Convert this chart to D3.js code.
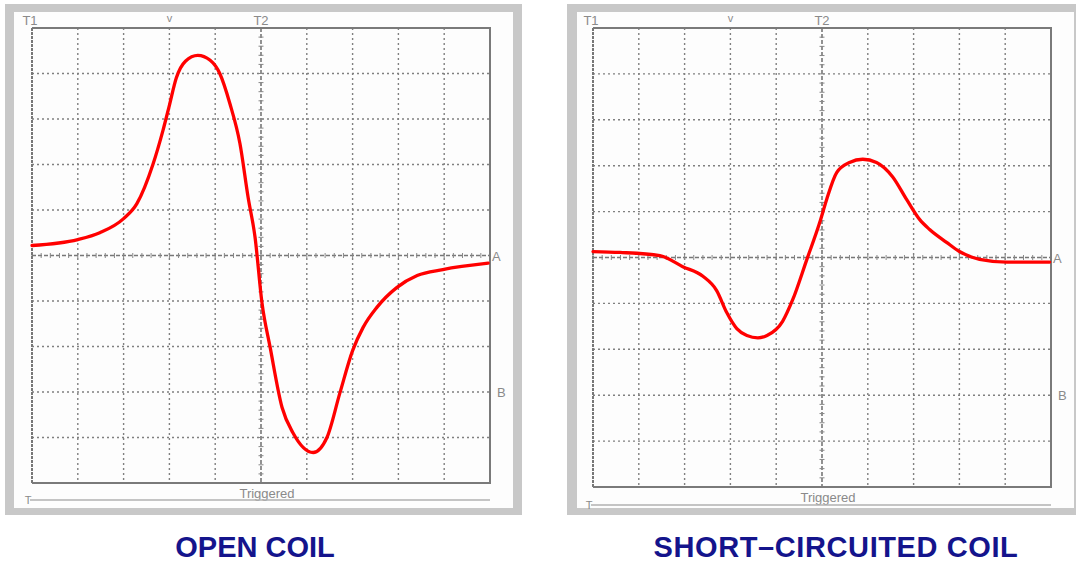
<!DOCTYPE html>
<html>
<head>
<meta charset="utf-8">
<script src="https://cdn.jsdelivr.net/npm/d3@7"></script>
<style>
  body { margin: 0; background: #fff; }
  svg { display: block; }
  text { font-family: "Liberation Sans", Arial, sans-serif; }
</style>
</head>
<body>
<svg id="chart" width="1076" height="564"></svg>
<script>
// values in screen divisions: x 0..10 left to right, y -5..5 (0 = centre line)
var openX  = [0, 1, 1.48, 2, 2.29, 2.64, 2.86, 3.0, 3.15, 3.35, 3.62, 3.89, 4.1, 4.32, 4.54, 4.72, 4.87, 5.02, 5.2, 5.46, 5.7, 6.14, 6.44, 6.72, 7.0, 7.23, 7.53, 7.97, 8.41, 8.97, 9.96];
var openY  = [0.22, 0.35, 0.5, 0.81, 1.14, 2.0, 2.75, 3.3, 3.9, 4.27, 4.4, 4.29, 4.0, 3.34, 2.46, 1.27, 0.4, -1.03, -2.02, -3.34, -3.9, -4.33, -4.0, -3.03, -2.09, -1.58, -1.14, -0.7, -0.44, -0.31, -0.17];
var shortX = [0, 0.59, 1.46, 1.96, 2.4, 2.7, 2.92, 3.14, 3.36, 3.6, 3.8, 4.14, 4.36, 4.67, 4.95, 5.1, 5.32, 5.6, 5.89, 6.19, 6.54, 6.85, 7.13, 7.35, 7.72, 8.0, 8.44, 9.03, 9.97];
var shortY = [0.13, 0.11, 0.04, -0.2, -0.41, -0.72, -1.2, -1.55, -1.7, -1.75, -1.7, -1.39, -0.92, -0.04, 0.76, 1.26, 1.85, 2.07, 2.14, 2.07, 1.76, 1.26, 0.83, 0.61, 0.33, 0.13, -0.04, -0.1, -0.1];
var titles = ["OPEN COIL", "SHORT\u2013CIRCUITED COIL"];
var divs = d3.range(0, 11);

var svg = d3.select("#chart");

var panels = [
  {frame: [5, 4, 517, 511], inner: [14, 12, 499, 496], plot: {left: 32, right: 490, top: 28, bottom: 483},
   xs: openX, ys: openY, title: titles[0], titleX: 255, spacing: 0, baseY: 500},
  {frame: [567, 4, 530, 511], inner: [577, 12, 497, 496], plot: {left: 593, right: 1051, top: 28, bottom: 487},
   xs: shortX, ys: shortY, title: titles[1], titleX: 836, spacing: 0.6, baseY: 505}
];

panels.forEach(function(p) {
  var g = svg.append("g");
  // window frame
  g.append("rect").attr("x", p.frame[0]).attr("y", p.frame[1])
    .attr("width", p.frame[2]).attr("height", p.frame[3]).attr("fill", "#c8c8c8");
  g.append("rect").attr("x", p.inner[0]).attr("y", p.inner[1])
    .attr("width", p.inner[2]).attr("height", p.inner[3]).attr("fill", "#fdfdfd");

  var x = d3.scaleLinear().domain([0, 10]).range([p.plot.left, p.plot.right]);
  var y = d3.scaleLinear().domain([-5, 5]).range([p.plot.bottom, p.plot.top]);

  // grid
  g.selectAll(".vgrid").data(divs.filter(function(d) { return d > 0 && d < 10 && d != 5; }))
    .enter().append("line")
      .attr("x1", function(d) { return x(d); }).attr("x2", function(d) { return x(d); })
      .attr("y1", y(5)).attr("y2", y(-5))
      .attr("stroke", "#808080").attr("stroke-width", 1.4).attr("stroke-dasharray", "2,3");
  g.selectAll(".hgrid").data(divs.map(function(d) { return d - 5; }).filter(function(d) { return d > -5 && d < 5 && d != 0; }))
    .enter().append("line")
      .attr("y1", function(d) { return y(d); }).attr("y2", function(d) { return y(d); })
      .attr("x1", x(0)).attr("x2", x(10))
      .attr("stroke", "#808080").attr("stroke-width", 1.4).attr("stroke-dasharray", "2,3");

  // centre lines with minor ticks
  g.append("line").attr("x1", x(0)).attr("x2", x(10)).attr("y1", y(0)).attr("y2", y(0))
    .attr("stroke", "#777").attr("stroke-width", 1.6).attr("stroke-dasharray", "4,2");
  g.append("line").attr("x1", x(5)).attr("x2", x(5)).attr("y1", y(5)).attr("y2", y(-5))
    .attr("stroke", "#777").attr("stroke-width", 1.6).attr("stroke-dasharray", "4,2");
  var minor = d3.range(0, 50.5, 1).map(function(i) { return i / 5; });
  g.selectAll(".hmin").data(minor).enter().append("line")
    .attr("x1", function(d) { return x(d); }).attr("x2", function(d) { return x(d); })
    .attr("y1", y(0) - 2.5).attr("y2", y(0) + 2.5)
    .attr("stroke", "#888").attr("stroke-width", 1);
  g.selectAll(".vmin").data(minor.map(function(d) { return d - 5; })).enter().append("line")
    .attr("y1", function(d) { return y(d); }).attr("y2", function(d) { return y(d); })
    .attr("x1", x(5) - 2.5).attr("x2", x(5) + 2.5)
    .attr("stroke", "#888").attr("stroke-width", 1);

  // plot border
  g.append("line").attr("x1", x(0)).attr("x2", x(0)).attr("y1", y(5)).attr("y2", y(-5))
    .attr("stroke", "#777").attr("stroke-width", 2).attr("stroke-dasharray", "3,1");
  g.append("path")
    .attr("d", "M" + x(0) + "," + y(5) + "H" + x(10) + "V" + y(-5) + "H" + x(0))
    .attr("fill", "none").attr("stroke", "#7a7a7a").attr("stroke-width", 2);

  // trace
  var pts = p.xs.map(function(d, i) { return [d, p.ys[i]]; });
  var line = d3.line().x(function(d) { return x(d[0]); }).y(function(d) { return y(d[1]); })
    .curve(d3.curveMonotoneX);
  g.append("path").datum(pts).attr("d", line)
    .attr("fill", "none").attr("stroke", "#ff0000").attr("stroke-width", 3.3)
    .attr("stroke-linejoin", "round").attr("stroke-linecap", "round");

  // screen labels
  var lab = function(tx, ty, s, size, anchor) {
    g.append("text").attr("x", tx).attr("y", ty).attr("font-size", size || 13)
      .attr("fill", "#8a8a8a").attr("text-anchor", anchor || "middle").text(s);
  };
  lab(x(0) - 2, y(5) - 3, "T1");
  lab(x(3), y(5) - 6, "v", 11);
  lab(x(5), y(5) - 3, "T2");
  lab(x(10) + 2, y(0) + 5, "A", 13, "start");
  lab(x(10) + 7, y(-3) + 5, "B", 13, "start");
  lab(x(5) + 6, p.plot.bottom + 15, "Triggered", 13);
  lab(x(0) - 4, p.baseY + 4, "T", 11);
  g.append("line").attr("x1", x(0) - 2).attr("x2", x(10)).attr("y1", p.baseY).attr("y2", p.baseY)
    .attr("stroke", "#b0b0b0").attr("stroke-width", 1.5);

  // caption
  svg.append("text").attr("x", p.titleX).attr("y", 557)
    .attr("text-anchor", "middle").attr("font-size", 29).attr("font-weight", "bold")
    .attr("letter-spacing", p.spacing)
    .attr("fill", "#14148c").text(p.title);
});
</script>
</body>
</html>
